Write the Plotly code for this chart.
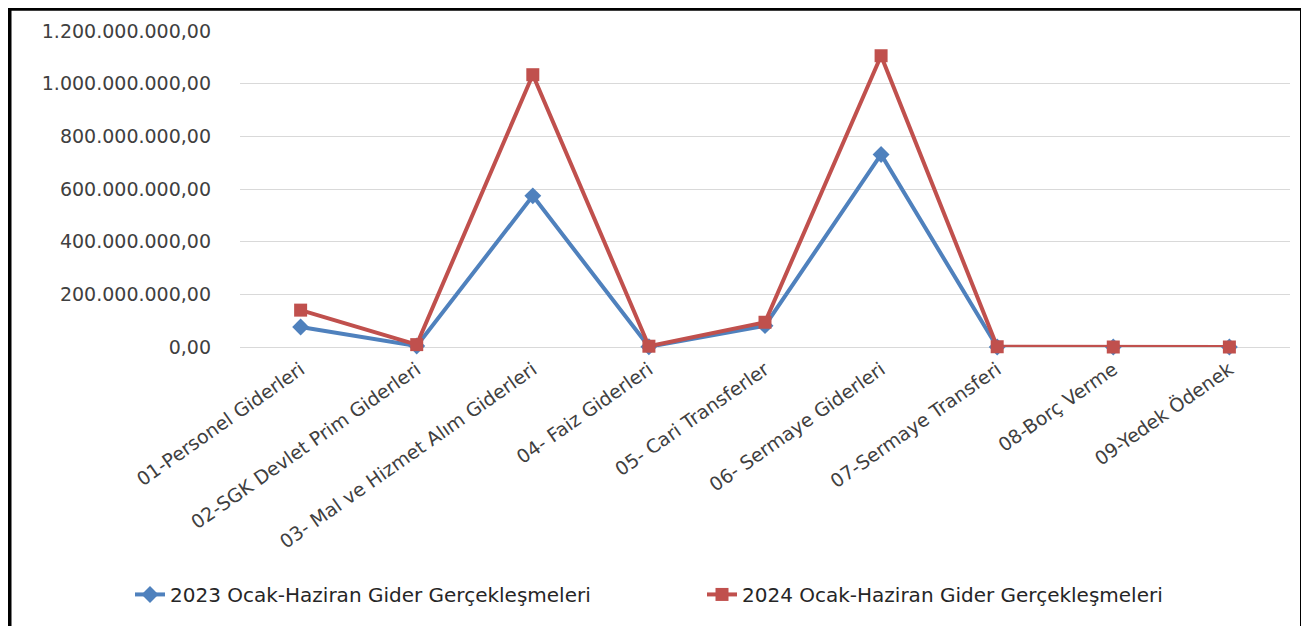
import plotly.graph_objects as go

# Gider kalemleri (ekonomik sınıflandırma)
categories = [
    "01-Personel Giderleri",
    "02-SGK Devlet Prim Giderleri",
    "03- Mal ve Hizmet Alım Giderleri",
    "04- Faiz Giderleri",
    "05- Cari Transferler",
    "06- Sermaye Giderleri",
    "07-Sermaye Transferi",
    "08-Borç Verme",
    "09-Yedek Ödenek",
]

# TL, grafikten okunan yaklaşık değerler
gider_2023 = [76_000_000, 4_000_000, 574_000_000, 1_000_000, 81_000_000,
              731_000_000, 0, 0, 0]
gider_2024 = [140_000_000, 9_000_000, 1_034_000_000, 3_000_000, 94_000_000,
              1_106_000_000, 1_000_000, 0, 0]

name_2023 = "2023 Ocak-Haziran Gider Gerçekleşmeleri"
name_2024 = "2024 Ocak-Haziran Gider Gerçekleşmeleri"

y_ticks = [0, 200_000_000, 400_000_000, 600_000_000, 800_000_000,
           1_000_000_000, 1_200_000_000]

FONT = "DejaVu Sans"
# the page body has an 8px margin, so the figure is a bit smaller
W, H = 1301, 618
ML, MR, MT, MB = 232, 19, 23, 277


def px_x(px):
    # piksel -> paper koordinatı (yatay)
    return (px - ML) / (W - ML - MR)


def px_y(py):
    # piksel -> paper koordinatı (dikey)
    return (H - MB - py) / (H - MT - MB)


fig = go.Figure()
fig.add_trace(
    go.Scatter(
        x=categories,
        y=gider_2023,
        mode="lines+markers",
        name=name_2023,
        line=dict(color="#4F81BD", width=4),
        marker=dict(symbol="diamond", size=13, color="#4F81BD"),
        cliponaxis=False,
        legend="legend",
    )
)
fig.add_trace(
    go.Scatter(
        x=categories,
        y=gider_2024,
        mode="lines+markers",
        name=name_2024,
        line=dict(color="#C0504D", width=4),
        marker=dict(symbol="square", size=13, color="#C0504D"),
        cliponaxis=False,
        legend="legend2",
    )
)

legend_style = dict(
    orientation="h",
    xanchor="left",
    yanchor="middle",
    y=px_y(590),
    font=dict(family=FONT, size=20, color="#262626"),
    bgcolor="rgba(0,0,0,0)",
)

fig.update_layout(
    width=W,
    height=H,
    margin=dict(l=ML, r=MR, t=MT, b=MB),
    paper_bgcolor="white",
    plot_bgcolor="white",
    separators=",.",
    font=dict(family=FONT, size=19, color="#404040"),
    showlegend=True,
    legend=dict(x=px_x(122), **legend_style),
    legend2=dict(x=px_x(694), **legend_style),
    shapes=[
        dict(
            type="rect",
            xref="paper",
            yref="paper",
            x0=px_x(1.5),
            x1=px_x(1294),
            y0=px_y(660),
            y1=px_y(0.5),
            line=dict(color="black", width=4),
            layer="above",
        )
    ],
)

fig.update_xaxes(
    type="category",
    tickangle=-35,
    showgrid=False,
    showline=False,
    zeroline=False,
    ticks="",
    ticklabelstandoff=7,
    tickfont=dict(family=FONT, size=19, color="#404040"),
)
fig.update_yaxes(
    range=[0, 1_200_000_000],
    tickvals=y_ticks,
    tickformat=",.2f",
    showgrid=True,
    gridcolor="#D9D9D9",
    gridwidth=1,
    zeroline=True,
    zerolinecolor="#D9D9D9",
    zerolinewidth=1,
    showline=False,
    ticks="",
    ticklabelstandoff=28,
    tickfont=dict(family=FONT, size=19, color="#404040"),
)

fig.write_html("out.html")
